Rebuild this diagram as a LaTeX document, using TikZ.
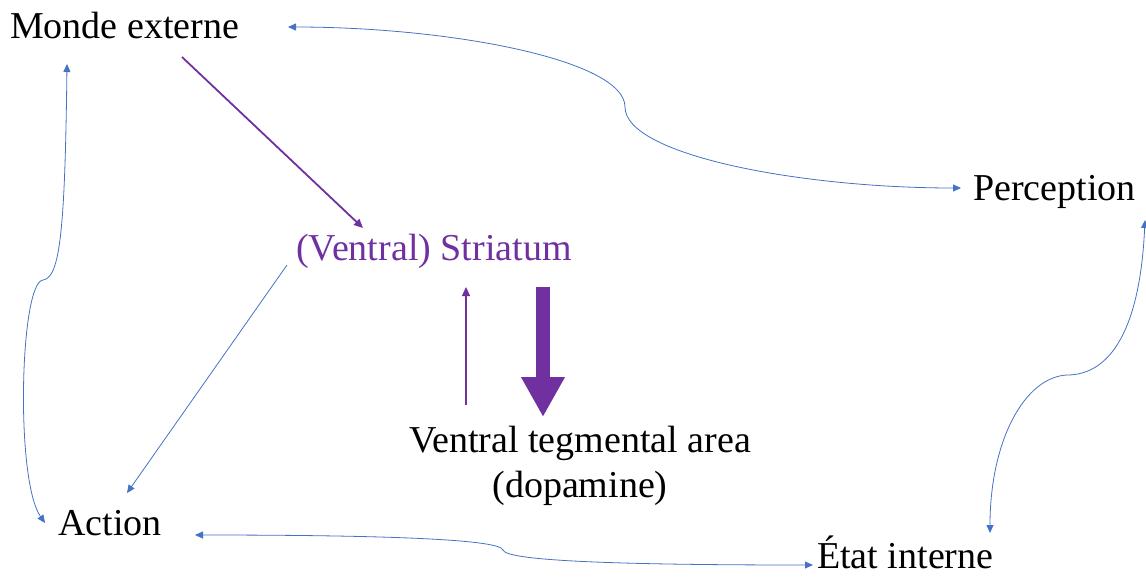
\documentclass[tikz,border=0pt]{standalone}
\usepackage{fontspec}
\setmainfont{Liberation Serif}
\usetikzlibrary{arrows.meta}
\definecolor{cblue}{HTML}{4472C4}
\definecolor{cpurple}{HTML}{7030A0}
\begin{document}
\begin{tikzpicture}[x=1pt,y=-1pt,
  lbl/.style={inner sep=0pt, font=\fontsize{38}{44}\selectfont},
  tipb/.tip={Triangle[length=8pt,width=7pt]},
  conn/.style={cblue, line width=0.8pt},
  both/.style={conn, tipb-tipb},
  pline/.style={cpurple, -{Triangle[length=9pt,width=8pt]}}]
\useasboundingbox (0,0) rectangle (1146,582);

% texts
\node[lbl, anchor=base west] (monde) at (10,38) {Monde externe};
\node[lbl, anchor=base west] (perc) at (973,200) {Perception};
\node[lbl, anchor=base west, text=cpurple] (stri) at (296,260) {(Ventral) Striatum};
\node[lbl, anchor=base] (vta) at (580,452) {Ventral tegmental area};
\node[lbl, anchor=base] (dopa) at (580,497) {(dopamine)};
\node[lbl, anchor=base west] (act) at (58,535) {Action};
\node[lbl, anchor=base west] (etat) at (817,568) {État interne};

% connector end points
\coordinate (monde-r) at (288,27);
\coordinate (monde-bl) at (67,64);
\coordinate (monde-b) at (182,57);
\coordinate (perc-l) at (961,188);
\coordinate (perc-b) at (1145,220);
\coordinate (stri-t) at (363,228);
\coordinate (stri-bl) at (287,265);
\coordinate (stri-b1) at (466,287);
\coordinate (stri-b2) at (543,287);
\coordinate (vta-t1) at (466,405);
\coordinate (vta-t2) at (543,417);
\coordinate (act-tl) at (45,523);
\coordinate (act-t) at (127,493);
\coordinate (act-r) at (195,535);
\coordinate (etat-l) at (813,565);
\coordinate (etat-t) at (990,533);

% blue curved connectors
\draw[both] (monde-r) .. controls (450,27) and (625,60) .. (625,107)
  .. controls (625,155) and (800,188) .. (perc-l);
\draw[both] (perc-b) .. controls (1140,330) and (1110,375) .. (1067,375)
  .. controls (1025,377) and (990,440) .. (etat-t);
\draw[both] (monde-bl) .. controls (65,230) and (60,278) .. (43,280)
  .. controls (20,282) and (15,480) .. (act-tl);
\draw[both] (act-r) .. controls (400,535) and (500,540) .. (503,550)
  .. controls (506,560) and (600,565) .. (etat-l);
\draw[conn, -tipb] (stri-bl) -- (act-t);

% purple arrows
\draw[pline, line width=1.8pt] (monde-b) -- (stri-t);
\draw[pline, line width=1.3pt] (vta-t1) -- (stri-b1);
\draw[cpurple, line width=14pt, -{Triangle[length=40pt,width=41pt]}] (stri-b2) -- (vta-t2);
\end{tikzpicture}
\end{document}
